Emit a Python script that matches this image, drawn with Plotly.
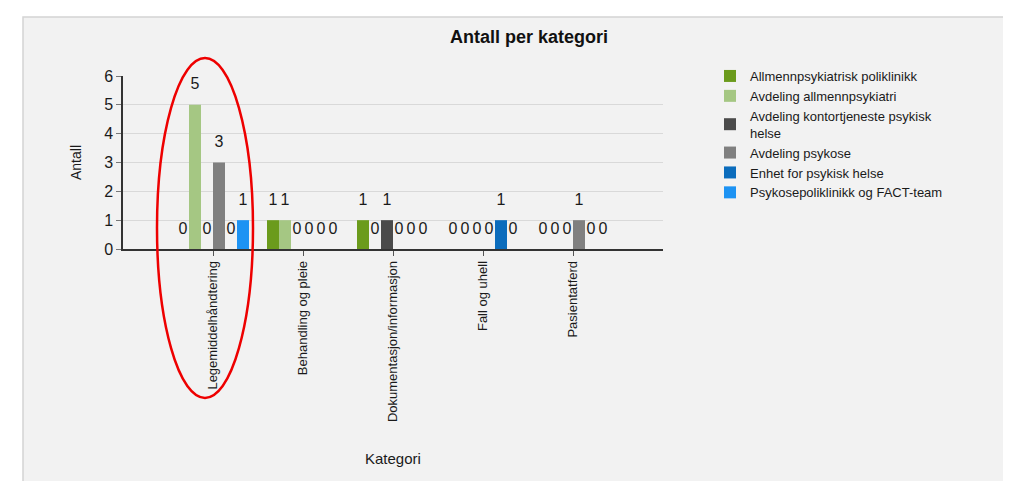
import plotly.graph_objects as go

categories = ["Legemiddelhåndtering", "Behandling og pleie", "Dokumentasjon/informasjon",
              "Fall og uhell", "Pasientatferd"]
series_names = ["Allmennpsykiatrisk poliklinikk", "Avdeling allmennpsykiatri",
                "Avdeling kontortjeneste psykisk<br>helse", "Avdeling psykose",
                "Enhet for psykisk helse", "Psykosepoliklinikk og FACT-team"]
allmenn_poli = [0, 1, 1, 0, 0]
avd_allmenn = [5, 1, 0, 0, 0]
avd_kontor = [0, 0, 1, 0, 0]
avd_psykose = [3, 0, 0, 0, 1]
enhet_psyk = [0, 0, 0, 1, 0]
psykose_poli = [1, 0, 0, 0, 0]
series_values = [allmenn_poli, avd_allmenn, avd_kontor, avd_psykose, enhet_psyk, psykose_poli]
colors = ["#6b9b1c", "#a5c783", "#4b4b4b", "#808080", "#0b6cbc", "#1d93f3"]
y_ticks = [0, 1, 2, 3, 4, 5, 6]

FONT = "Liberation Sans, Arial, sans-serif"

fig = go.Figure()
for name, vals, col in zip(series_names, series_values, colors):
    labels = [f"<span style='font-size:16px'>{v}</span><br>"
              f"<span style='color:rgba(0,0,0,0)'>.</span>" for v in vals]
    fig.add_trace(go.Bar(
        x=categories, y=vals, name=name, marker=dict(color=col, line=dict(width=0)),
        text=labels, textposition="outside", cliponaxis=False,
        constraintext="none", hoverinfo="x+y+name",
        textfont=dict(family=FONT, size=8, color="#1a1a1a"),
    ))

OFF = 8  # page body margin offset
W, H = 1011 - OFF, 481 - OFF
L, T = 123 - OFF, 76 - OFF
R = W - (663 - OFF)
B = H - (249 - OFF)
pw, ph = W - L - R, H - T - B

def px(x):
    return (x - OFF - L) / pw

def py(y):
    return (H - B - (y - OFF)) / ph

fig.update_layout(
    width=W, height=H,
    margin=dict(l=L, r=R, t=T, b=B, pad=0),
    paper_bgcolor="white", plot_bgcolor="rgba(0,0,0,0)",
    barmode="group", bargap=0.2, bargroupgap=0,
    font=dict(family=FONT, color="#1a1a1a"),
    title=dict(text="<b>Antall per kategori</b>", x=(529 - OFF) / W, xanchor="center",
               y=1 - (37 - OFF) / H, yanchor="middle",
               font=dict(family=FONT, size=18, color="#111")),
    showlegend=True,
    legend=dict(x=px(710), y=py(61), xanchor="left", yanchor="top",
                font=dict(family=FONT, size=13, color="#1a1a1a"),
                bgcolor="rgba(0,0,0,0)", tracegroupgap=0, itemwidth=30,
                traceorder="normal"),
    xaxis=dict(type="category", range=[-1, 5], showgrid=False,
               showline=True, linecolor="#333", linewidth=1.5,
               ticks="outside", ticklen=5, tickcolor="#555",
               tickangle=-90, tickfont=dict(family=FONT, size=13, color="#1a1a1a"),
               zeroline=False),
    yaxis=dict(range=[0, 6], tickvals=y_ticks, showgrid=True, gridcolor="#d9d9d9",
               gridwidth=1, showline=True, linecolor="#333", linewidth=1.5,
               ticks="outside", ticklen=5, tickcolor="#777",
               tickfont=dict(family=FONT, size=16, color="#1a1a1a"),
               zeroline=False),
    shapes=[
        dict(type="rect", xref="paper", yref="paper", x0=px(23), x1=px(1030),
             y0=py(500), y1=py(17), fillcolor="#f2f2f2",
             line=dict(color="#d4d4d4", width=1.5), layer="below"),
        dict(type="circle", xref="paper", yref="paper", x0=px(157), x1=px(253),
             y0=py(398), y1=py(58), line=dict(color="#ee0000", width=2.5),
             fillcolor="rgba(0,0,0,0)", layer="above"),
    ],
    annotations=[
        dict(text="Antall", xref="paper", yref="paper", x=px(76), y=py(163),
             textangle=-90, showarrow=False, font=dict(family=FONT, size=14, color="#1a1a1a"),
             xanchor="center", yanchor="middle"),
        dict(text="Kategori", xref="paper", yref="paper", x=px(393), y=py(458),
             showarrow=False, font=dict(family=FONT, size=15, color="#1a1a1a"),
             xanchor="center", yanchor="middle"),
    ],
)

fig.write_html("out.html")
